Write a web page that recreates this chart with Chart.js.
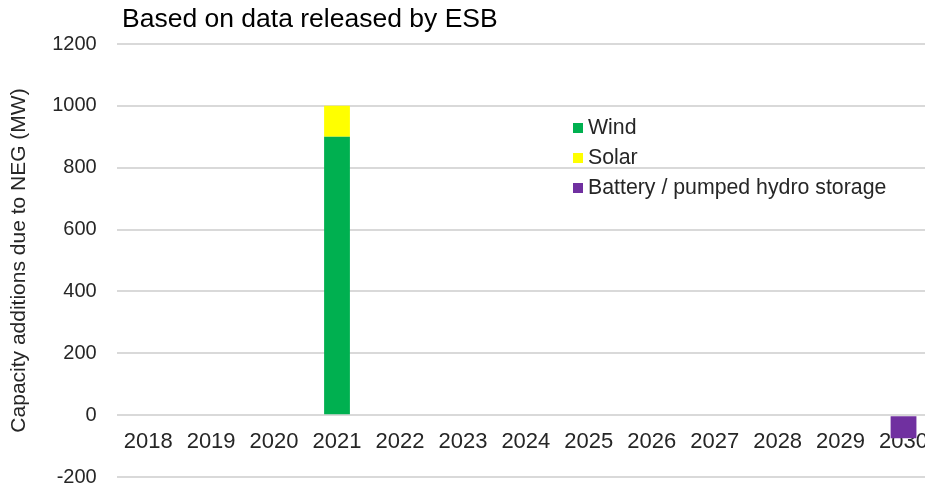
<!DOCTYPE html>
<html>
<head>
<meta charset="utf-8">
<script src="https://cdn.jsdelivr.net/npm/chart.js@4"></script>
<style>
  html, body { margin: 0; padding: 0; background: #fff; overflow: hidden; }
  #wrap { position: relative; width: 945px; height: 487px; overflow: hidden; }
  #subtitle { position: absolute; left: 122px; top: 3px; font: 26.5px "Liberation Sans", Arial, sans-serif; color: #000; }
  #legend { position: absolute; left: 573px; top: 113px; font: 21.3px "Liberation Sans", Arial, sans-serif; color: #262626; }
  #legend div { height: 30px; line-height: 28px; white-space: nowrap; }
  #legend span.box { display: inline-block; width: 10px; height: 10px; margin-right: 5px; vertical-align: 1px; }
</style>
</head>
<body>
<div id="wrap">
  <canvas id="myChart" width="945" height="509"></canvas>
  <div id="subtitle">Based on data released by ESB</div>
  <div id="legend"></div>
</div>
<script>
const years = ['2018', '2019', '2020', '2021', '2022', '2023', '2024', '2025', '2026', '2027', '2028', '2029', '2030'];
const windValues = [0, 0, 0, 900, 0, 0, 0, 0, 0, 0, 0, 0, 0];
const solarValues = [0, 0, 0, 100, 0, 0, 0, 0, 0, 0, 0, 0, 0];
const storageValues = [0, 0, 0, 0, 0, 0, 0, 0, 0, 0, 0, 0, -75];

const font = 'Liberation Sans, Arial, sans-serif';

const chart = new Chart("myChart", {
  type: "bar",
  data: {
    labels: years,
    datasets: [
      { label: "Wind", backgroundColor: "#00b050", data: windValues },
      { label: "Solar", backgroundColor: "#ffff00", data: solarValues },
      { label: "Battery / pumped hydro storage", backgroundColor: "#7030a0", data: storageValues }
    ]
  },
  options: {
    responsive: false,
    animation: false,
    layout: { padding: { top: 44, left: 7, right: 10, bottom: 0 } },
    datasets: { bar: { barPercentage: 0.41, categoryPercentage: 1.0 } },
    plugins: { legend: { display: false }, tooltip: { enabled: false } },
    scales: {
      x: {
        stacked: true,
        position: { y: 0 },
        grid: { display: false },
        border: { display: false },
        ticks: { color: '#262626', font: { family: font, size: 22 }, padding: 6, maxRotation: 0 }
      },
      y: {
        stacked: true,
        min: -200,
        max: 1200,
        grid: { color: '#d9d9d9', lineWidth: 2, drawTicks: false },
        border: { display: false },
        ticks: {
          stepSize: 200,
          color: '#262626',
          font: { family: font, size: 20 },
          padding: 20,
          callback: value => String(value)
        },
        title: {
          display: true,
          text: 'Capacity additions due to NEG (MW)',
          color: '#262626',
          font: { family: font, size: 21 },
          padding: 0
        }
      }
    }
  }
});

// legend built from the chart's datasets
const legendEl = document.getElementById('legend');
chart.data.datasets.forEach(ds => {
  const row = document.createElement('div');
  row.innerHTML = '<span class="box" style="background:' + ds.backgroundColor + '"></span>' + ds.label;
  legendEl.appendChild(row);
});
</script>
</body>
</html>
